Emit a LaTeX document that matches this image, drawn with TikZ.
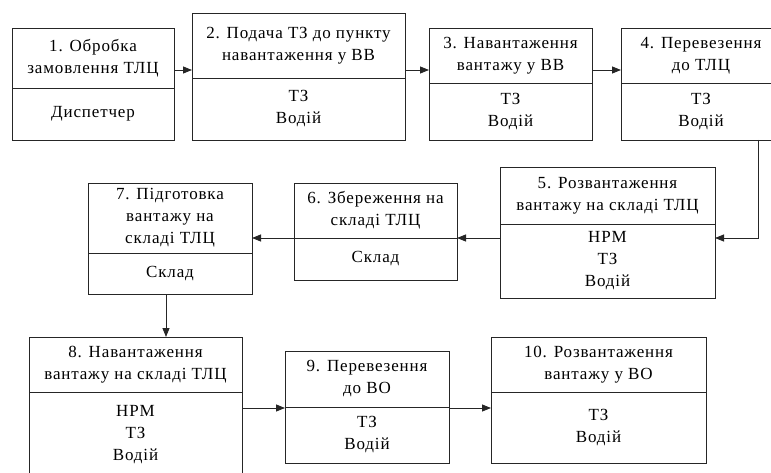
\documentclass[tikz,border=0pt]{standalone}
\usepackage{fontspec}
\setmainfont{Liberation Serif}
\newfontfamily\boxfont[LetterSpace=5]{Liberation Serif}
\usetikzlibrary{positioning,arrows.meta}

\begin{document}
\begin{tikzpicture}[
    x=1pt, y=-1pt,
    part/.style={draw=black!85, line width=0.8pt, outer sep=0pt, inner sep=1pt, align=center, font=\boxfont\fontsize{17}{22}\selectfont},
    arr/.style={draw=black!85, line width=0.8pt, -{Triangle[length=9pt,width=7pt]}},
]
\useasboundingbox (0,0) rectangle (771,473);
% first row
\node[part, minimum width=162pt, minimum height=60pt] (s1a) at (93,58) {1. Обробка\\замовлення ТЛЦ};
\node[part, minimum width=162pt, minimum height=52pt, below=0pt of s1a] (s1b) {Диспетчер};
\node[part, minimum width=213pt, minimum height=65pt] (s2a) at (298.5,45.5) {2. Подача ТЗ до пункту\\навантаження у ВВ};
\node[part, minimum width=213pt, minimum height=62pt, below=0pt of s2a] (s2b) {ТЗ\\Водій};
\node[part, minimum width=163pt, minimum height=55pt] (s3a) at (510.5,55.5) {3. Навантаження\\вантажу у ВВ};
\node[part, minimum width=163pt, minimum height=57pt, below=0pt of s3a] (s3b) {ТЗ\\Водій};
\node[part, minimum width=160pt, minimum height=55pt] (s4a) at (701,55.5) {4. Перевезення\\до ТЛЦ};
\node[part, minimum width=160pt, minimum height=57pt, below=0pt of s4a] (s4b) {ТЗ\\Водій};
% second row
\node[part, minimum width=215pt, minimum height=57pt] (s5a) at (607.5,195.5) {5. Розвантаження\\вантажу на складі ТЛЦ};
\node[part, minimum width=215pt, minimum height=74pt, below=0pt of s5a] (s5b) {НРМ\\ТЗ\\Водій};
\node[part, minimum width=163pt, minimum height=55pt] (s6a) at (375.5,210.5) {6. Збереження на\\складі ТЛЦ};
\node[part, minimum width=163pt, minimum height=42pt, below=0pt of s6a] (s6b) {Склад};
\node[part, minimum width=164pt, minimum height=70pt] (s7a) at (170,218) {7. Підготовка\\вантажу на\\складі ТЛЦ};
\node[part, minimum width=164pt, minimum height=41pt, below=0pt of s7a] (s7b) {Склад};
% third row
\node[part, minimum width=213pt, minimum height=55pt] (s8a) at (135.5,364.5) {8. Навантаження\\вантажу на складі ТЛЦ};
\node[part, minimum width=213pt, minimum height=86pt, below=0pt of s8a] (s8b) {НРМ\\ТЗ\\Водій};
\node[part, minimum width=164pt, minimum height=56pt] (s9a) at (367,379) {9. Перевезення\\до ВО};
\node[part, minimum width=164pt, minimum height=56pt, below=0pt of s9a] (s9b) {ТЗ\\Водій};
\node[part, minimum width=215pt, minimum height=55pt] (s10a) at (598.5,364.5) {10. Розвантаження\\вантажу у ВО};
\node[part, minimum width=215pt, minimum height=71pt, below=0pt of s10a] (s10b) {ТЗ\\Водій};
% connectors
\draw[arr] (s1a.east |- 0,70) -- (s2a.west |- 0,70);
\draw[arr] (s2a.east |- 0,70) -- (s3a.west |- 0,70);
\draw[arr] (s3a.east |- 0,70) -- (s4a.west |- 0,70);
\draw[arr] (s4b.south -| 758,0) |- (s5b.east |- 0,238);
\draw[arr] (s5b.west |- 0,238) -- (s6a.south east);
\draw[arr] (s6a.south west) -- (s7a.east |- 0,238);
\draw[arr] (s7b.south -| 166,0) -- (s8a.north -| 166,0);
\draw[arr] (s8b.east |- 0,408) -- (s9b.west |- 0,408);
\draw[arr] (s9b.east |- 0,408) -- (s10b.west |- 0,408);
\end{tikzpicture}
\end{document}
